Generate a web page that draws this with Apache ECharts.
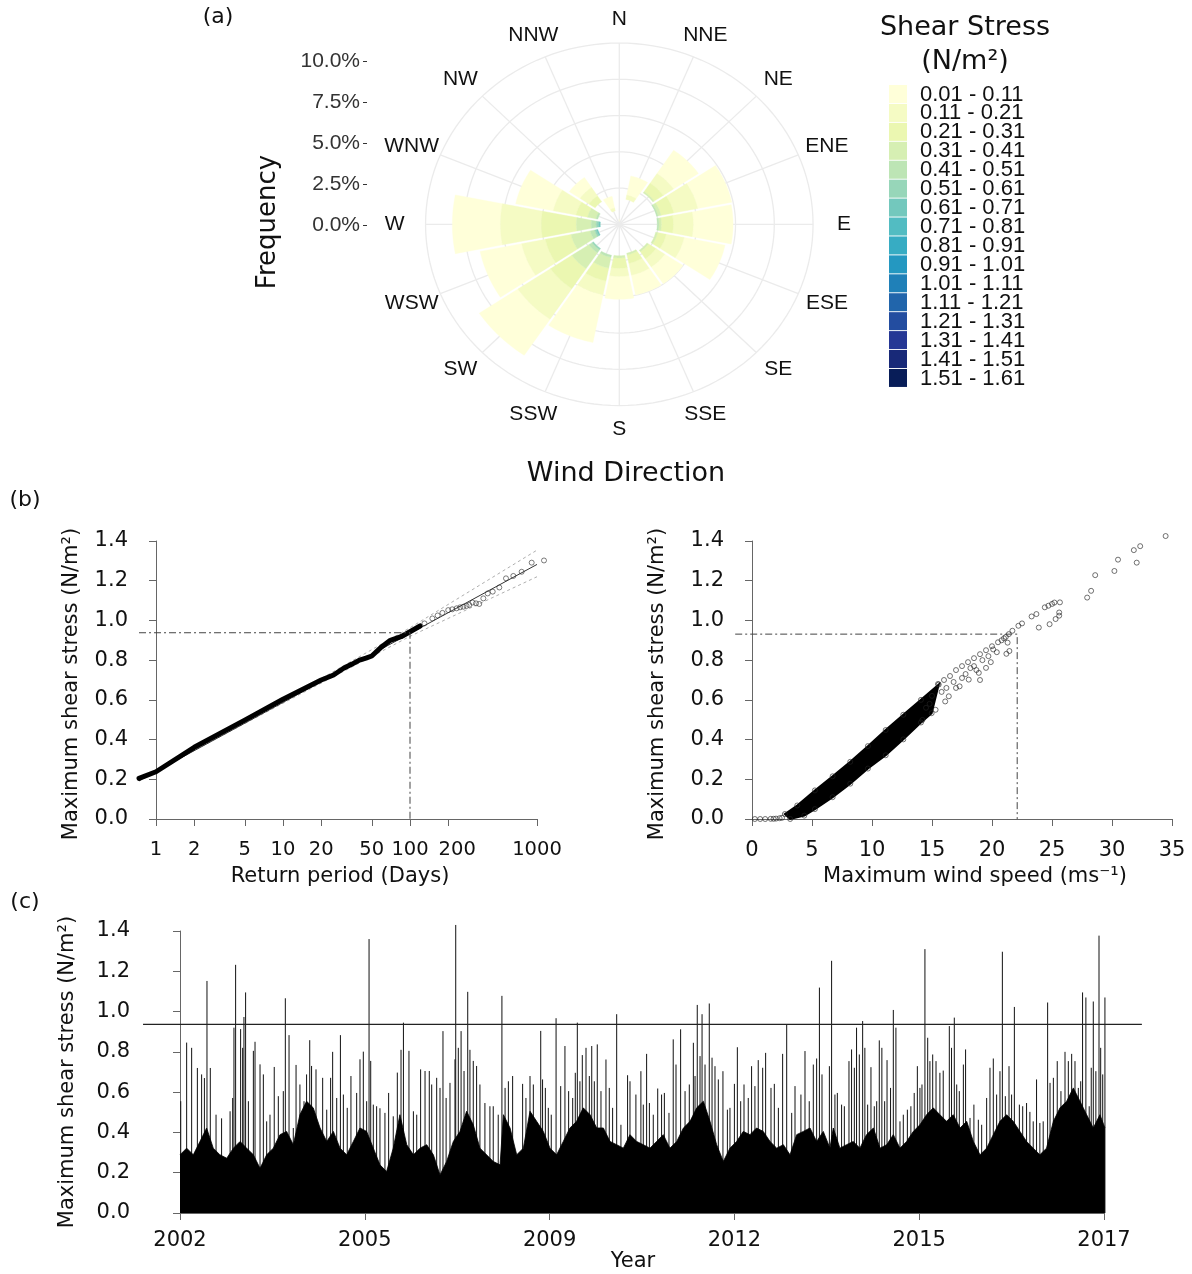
<!DOCTYPE html>
<html><head><meta charset="utf-8">
<script src="https://cdn.jsdelivr.net/npm/echarts@6/dist/echarts.min.js"></script>
<style>html,body{margin:0;padding:0;background:#fff}#c{width:1192px;height:1274px}</style>
</head><body><div id="c"></div>
<script>
// ================= DATA =================
// (a) wind rose
const directions = ['N','NNE','NE','ENE','E','ESE','SE','SSE','S','SSW','SW','WSW','W','WNW','NW','NNW'];
const stressClasses = ['0.01 - 0.11','0.11 - 0.21','0.21 - 0.31','0.31 - 0.41','0.41 - 0.51','0.51 - 0.61','0.61 - 0.71','0.71 - 0.81','0.81 - 0.91','0.91 - 1.01','1.01 - 1.11','1.11 - 1.21','1.21 - 1.31','1.31 - 1.41','1.41 - 1.51','1.51 - 1.61'];
const classColors = ['#ffffd9','#f5fbc4','#ebf7b1','#d6efb3','#bde5b5','#97d6b9','#73c8bd','#52bcc2','#37acc3','#2498c1','#1f80b8','#2165ab','#234da0','#253795','#182978','#081d58'];
const freqPercentTicks = [0, 2.5, 5, 7.5, 10];
const roseCircleRadii = [2.5, 5, 7.5, 10, 12.5];
// frequency (%) by direction; below-range part is not coloured
const freqBelowRange = [0.20,1.77,2.66,2.47,2.45,2.41,2.20,2.05,2.17,2.19,2.06,1.43,1.23,1.43,1.93,0.96];
const freqC1 = [0.15,1.34,1.93,2.24,2.57,2.69,1.40,1.39,1.58,3.35,3.00,2.73,3.10,2.47,0.83,0.82];
const freqC2 = [0,0.30,0.80,1.58,1.29,1.18,0.69,0.83,0.56,0.97,2.53,1.56,2.64,1.50,0.69,0.20];
const freqC3 = [0,0,0.70,0.83,0.77,0.57,0.58,0.59,0.71,0.90,1.66,1.69,2.26,0.76,0.48,0];
const freqC4 = [0,0,0.10,0.21,0.16,0.12,0.12,0.12,0.15,0.76,1.32,1.26,0.96,0.55,0,0];
const freqC5 = [0,0,0,0.08,0.10,0,0,0,0,0.15,0.25,0.30,0.33,0.12,0,0];
const freqC6 = [0,0,0,0,0,0,0,0,0,0,0.10,0.12,0.15,0,0,0];
const freqC7 = [0,0,0,0,0,0,0,0,0,0,0,0.08,0.10,0,0,0];
const freqByClass = [freqC1,freqC2,freqC3,freqC4,freqC5,freqC6,freqC7]; // higher classes: no observations

// (b) left: return level plot
const returnTickDays = [1,2,5,10,20,50,100,200,1000];
const returnPeriodDense = [0.735,1,2,5,10,20,25,30,35,40,45,50,60,70,85,100,120];
const stressDense = [0.205,0.238,0.361,0.498,0.603,0.700,0.725,0.759,0.780,0.800,0.810,0.821,0.868,0.900,0.918,0.943,0.972];
const returnPeriodTail = [130,150,165,180,200,215,233,248,263,279,293,311,331,351,378,409,448,505,570,651,757,908,1135];
const stressTail = [0.985,1.010,1.025,1.038,1.052,1.056,1.061,1.066,1.069,1.073,1.078,1.090,1.086,1.083,1.111,1.136,1.145,1.166,1.212,1.224,1.245,1.291,1.302];
const returnFitDays = [0.735,1000];
const stressFit = [0.193,1.282];
const returnBandDays = [0.735,10,100,1000];
const stressBandUpper = [0.190,0.597,0.963,1.354];
const stressBandLower = [0.198,0.583,0.920,1.220];
const returnThresholdDays = 100;
const returnThresholdStress = 0.938;
const returnXRange = [0.735, 1500];   // plot region (days)

// (b) right: stress vs wind speed
const windBandTopX = [2.74,3.77,5.24,6.72,8.19,9.66,11.14,12.61,14.08,15.56];
const stressBandTop = [0.025,0.068,0.144,0.215,0.288,0.367,0.448,0.525,0.600,0.677];
const windBandBottomX = [3.18,4.36,5.24,6.72,8.19,9.66,11.14,12.61,14.08,14.97];
const stressBandBottom = [0.000,0.017,0.050,0.110,0.178,0.254,0.321,0.401,0.486,0.533];
const windStressPoints = [[0.24,0],[0.68,0],[1.1,0],[1.56,0.001],[1.8,0.001],[2.0,0.002],[2.3,0.004],[2.5,0.006],
 [14.2,0.499],[14.5,0.56],[14.8,0.58],[15.0,0.62],[15.3,0.55],[15.5,0.68],[15.8,0.64],[16.0,0.70],[16.1,0.592],[16.2,0.66],[16.4,0.618],[16.5,0.72],[16.8,0.69],[17.0,0.75],[17.0,0.66],[17.3,0.668],[17.5,0.77],[17.5,0.71],[17.8,0.73],[18.0,0.79],[18.06,0.702],[18.2,0.76],[18.5,0.81],[18.5,0.77],[18.7,0.75],[18.9,0.736],[19.0,0.83],[19.0,0.70],[19.2,0.80],[19.5,0.85],[19.5,0.761],[19.7,0.82],[19.9,0.79],[20.0,0.87],[20.1,0.854],[20.4,0.84],[20.5,0.89],[20.8,0.90],[21.0,0.91],[21.15,0.917],[21.2,0.832],[21.3,0.888],[21.4,0.931],[21.45,0.846],[21.7,0.948],[22.2,0.973],[22.5,0.985],[23.3,1.02],[23.7,1.032],[23.9,0.964],[24.4,1.066],[24.7,1.074],[24.8,0.981],[25.0,1.083],[25.2,1.09],[25.3,1.007],[25.6,1.024],[25.6,1.04],[25.66,1.091],[27.93,1.115],[28.26,1.149],[28.6,1.228],[30.2,1.249],[30.5,1.306],[31.82,1.354],[32.06,1.291],[32.35,1.374],[34.47,1.425]];
const windThreshold = 22.1;
const windThresholdStress = 0.931;
const windXRange = [-1.4, 36.4];      // plot region (m/s)

// (c) time series (x = observation index, tick every 1000)
const yearTicks = ['2002','2005','2009','2012','2015','2017'];
const seriesThreshold = 0.936;
const seriesXRange = [-200, 5205];    // plot region (index)
const stressRange = [-0.056, 1.456];  // plot region (stress)
const seriesBody = [[0,.289],[36,.322],[72,.289],[108,.355],[144,.422],[180,.322],[216,.289],[253,.272],[289,.322],[325,.355],[361,.322],[397,.289],[433,.222],[469,.289],[505,.322],[541,.389],[577,.405],[613,.339],[649,.488],[685,.555],[721,.522],[758,.422],[794,.355],[830,.405],[866,.322],[902,.289],[938,.355],[974,.422],[1010,.405],[1046,.322],[1082,.239],[1118,.206],[1154,.322],[1190,.488],[1227,.339],[1263,.289],[1299,.322],[1335,.339],[1371,.289],[1407,.189],[1443,.256],[1479,.355],[1515,.405],[1551,.505],[1587,.438],[1623,.322],[1659,.289],[1695,.256],[1732,.239],
 [1750,.488],[1786,.422],[1822,.289],[1858,.322],[1894,.505],[1930,.455],[1966,.405],[2002,.322],[2038,.289],[2074,.355],[2110,.422],[2146,.455],[2182,.522],[2219,.488],[2255,.422],[2291,.422],[2327,.355],[2363,.339],[2399,.322],[2435,.389],[2471,.355],[2507,.339],[2543,.322],[2579,.355],[2615,.389],[2651,.322],[2688,.355],[2724,.422],[2760,.455],[2796,.522],[2832,.555],[2868,.455],[2904,.339],[2940,.256],[2976,.322],[3012,.355],[3048,.405],[3084,.389],[3120,.422],[3156,.405],[3193,.355],[3229,.322],[3265,.339],[3301,.289],[3337,.389],[3373,.405],[3409,.422],[3445,.355],[3481,.405],[3517,.322],
 [3535,.422],[3571,.322],[3607,.339],[3643,.355],[3679,.322],[3715,.389],[3752,.422],[3788,.322],[3824,.339],[3860,.389],[3896,.322],[3932,.355],[3968,.405],[4004,.438],[4040,.488],[4076,.522],[4112,.488],[4148,.455],[4184,.488],[4221,.422],[4257,.455],[4293,.355],[4329,.289],[4365,.322],[4401,.389],[4437,.455],[4473,.488],[4509,.455],[4545,.405],[4581,.355],[4617,.322],[4653,.289],[4689,.322],[4726,.455],[4762,.522],[4798,.555],[4834,.621],[4870,.555],[4906,.488],[4942,.422],[4978,.488],[5005,.422]];
const seriesSpikes = [[4,.555],[36,.846],[63,.82],[94,.72],[117,.688],[132,.67],[146,1.152],[164,.72],[195,.488],[225,.47],[271,.505],[285,.571],[292,.92],[301,1.232],[328,.913],[339,.82],[346,.973],[355,1.095],[370,.555],[397,.805],[406,.85],[433,.738],[451,.688],[469,.455],[487,.488],[510,.725],[532,.58],[559,.605],[570,1.066],[590,.883],[613,.422],[628,.735],[649,.638],[671,.555],[685,.688],[702,.858],[712,.73],[736,.713],[772,.671],[794,.513],[815,.671],[826,.8],[848,.571],[868,.883],[884,.588],[905,.522],[925,.68],[956,.596],[974,.763],[992,.801],[1010,.555],[1023,1.36],[1032,.755],[1046,.538],[1064,.53],[1082,.52],[1109,.497],[1129,.596],[1154,.48],[1176,.697],[1196,.81],[1209,.945],[1239,.805],[1263,.505],[1281,.488],[1302,.713],[1326,.705],[1349,.705],[1362,.638],[1389,.671],[1407,.621],[1423,.903],[1440,.571],[1461,.646],[1488,.763],[1492,1.43],[1506,.82],[1521,.903],[1537,.705],[1557,1.098],[1569,.81],[1587,.755],[1605,.73],[1623,.638],[1650,.546],[1677,.53],[1695,.53],[1722,.488],
 [1742,1.078],[1759,.621],[1777,.654],[1800,.68],[1854,.641],[1872,.571],[1894,.68],[1912,.638],[1952,.904],[1962,.663],[1977,.621],[1993,.522],[2009,.488],[2035,.967],[2060,.63],[2083,.829],[2103,.605],[2125,.571],[2139,.696],[2150,.945],[2164,.654],[2177,.784],[2197,.82],[2215,.68],[2228,.829],[2242,.654],[2258,.837],[2278,.605],[2305,.762],[2323,.621],[2341,.522],[2363,.987],[2386,.438],[2422,.684],[2435,.654],[2467,.588],[2494,.704],[2507,.538],[2525,.79],[2540,.546],[2561,.488],[2585,.618],[2606,.588],[2621,.596],[2646,.497],[2669,.862],[2684,.737],[2709,.912],[2733,.605],[2756,.638],[2778,.845],[2787,.68],[2799,1.033],[2814,.779],[2825,.987],[2841,.737],[2864,1.04],[2879,.771],[2895,.729],[2913,.663],[2938,.704],[2962,.513],[2976,.522],[3000,.641],[3016,.823],[3034,.555],[3052,.638],[3075,.571],[3093,.729],[3111,.63],[3129,.759],[3153,.721],[3169,.795],[3198,.621],[3216,.641],[3238,.522],[3261,.79],[3283,.934],[3310,.497],[3328,.63],[3360,.588],[3382,.804],[3405,.555],[3427,.737],[3445,.767],[3460,1.119],[3474,.688],[3514,.729],
 [3526,1.252],[3544,.588],[3557,.596],[3580,.538],[3595,.53],[3620,.754],[3634,.812],[3649,.721],[3661,.92],[3676,.787],[3694,.953],[3706,.82],[3721,.538],[3739,.724],[3757,.53],[3770,.555],[3784,.857],[3798,.82],[3813,.555],[3826,.759],[3845,.621],[3860,1.008],[3874,.92],[3896,.455],[3914,.488],[3936,.513],[3955,.53],[3973,.596],[3990,.729],[4004,.621],[4015,.638],[4031,1.31],[4046,.87],[4058,.754],[4073,.787],[4091,.754],[4112,.696],[4130,.707],[4163,.928],[4175,.82],[4190,.97],[4203,.638],[4217,.605],[4239,.737],[4251,.812],[4275,.472],[4296,.538],[4320,.463],[4338,.438],[4365,.571],[4383,.721],[4401,.767],[4419,.588],[4437,.704],[4450,1.297],[4466,.58],[4486,.729],[4500,.588],[4515,1.023],[4542,.538],[4560,.53],[4581,.546],[4599,.502],[4617,.455],[4635,.663],[4653,.447],[4671,.455],[4695,1.045],[4708,.646],[4726,.671],[4747,.754],[4767,.605],[4789,.8],[4807,.754],[4825,.79],[4843,.754],[4861,.621],[4874,.654],[4884,1.095],[4902,1.07],[4920,.53],[4931,.721],[4942,1.05],[4956,.704],[4973,1.377],[4982,.82],[4993,.688],[5005,1.07]];

// ================= BUILD =================
const SANS = 'DejaVu Sans', ARIAL = 'Liberation Sans';
const DEG = Math.PI / 180;
const roseCx = 619.3, roseCy = 224.3, rosePxX = 15.5, rosePxY = 14.5, roseRmax = 12.5;
const labelRx = 14.5, labelRy = 14.15, roseGapPx = 2.4;

const zip = (a, b) => a.map((v, i) => [v, b[i]]);
function classFreq(k, d) { return k < freqByClass.length ? freqByClass[k][d] : 0; }
const segs = stressClasses.map(() => []);
directions.forEach((_, d) => {
  let r = freqBelowRange[d];
  for (let k = stressClasses.length - 1; k >= 0; k--) {
    const f = classFreq(k, d);
    if (f > 0) { segs[k].push([d, r, r + f]); r += f; }
  }
});

function halfWidth(r) {
  if (r <= 0) return 0;
  const g = Math.asin(Math.min(1, roseGapPx / 2 / (r * 15))) / DEG;
  return Math.max(0, 11.25 - g);
}
function sectorRender(color) {
  return function (params, api) {
    const d = api.value(0), r0 = api.value(1), r1 = api.value(2);
    const c = d * 22.5, pts = [], steps = 12;
    const h1 = halfWidth(r1), h0 = halfWidth(r0);
    for (let i = 0; i <= steps; i++) { const a = (c - h1 + 2 * h1 * i / steps) * DEG; pts.push(api.coord([r1 * Math.sin(a), r1 * Math.cos(a)])); }
    for (let i = steps; i >= 0; i--) { const a = (c - h0 + 2 * h0 * i / steps) * DEG; pts.push(api.coord([r0 * Math.sin(a), r0 * Math.cos(a)])); }
    return { type: 'polygon', shape: { points: pts }, style: { fill: color, stroke: color, lineWidth: 0.4 } };
  };
}

// axis boxes (tick ranges) and the plot regions derived from them
const boxBL = { left: 156, top: 541, width: 381, height: 278 };  // x: log10 days 0..3, y: 0..1.4
const boxBR = { left: 752, top: 541, width: 420, height: 278 };  // x: 0..35
const boxC  = { left: 180, top: 931, width: 924, height: 282 };  // x: 0..5000
function regionGrid(box, ax, xr, ay, yr) {
  const sx = box.width / (ax[1] - ax[0]), sy = box.height / (ay[1] - ay[0]);
  return { left: box.left + (xr[0] - ax[0]) * sx, width: (xr[1] - xr[0]) * sx,
           top: box.top - (yr[1] - ay[1]) * sy, height: (yr[1] - yr[0]) * sy,
           containLabel: false, outerBoundsMode: 'none' };
}
const g = b => Object.assign({ containLabel: false, outerBoundsMode: 'none' }, b);

const axisLineStyle = { color: '#666', width: 1 };
const tickLabel = { fontFamily: SANS, fontSize: 21, color: '#111' };
function stressY(gridIndex, offset) {
  return { gridIndex, type: 'value', min: 0, max: 1.4, interval: 0.2, offset,
    axisLine: { show: true, lineStyle: axisLineStyle },
    axisTick: { show: true, length: 7, lineStyle: axisLineStyle },
    axisLabel: Object.assign({ margin: 11, formatter: v => v.toFixed(1), hideOverlap: false }, tickLabel),
    splitLine: { show: false } };
}
const hidden = (gridIndex, min, max, type) => ({ gridIndex, type: type || 'value', min, max, show: false });

const dashDot = { color: '#444', width: 1, type: [7, 3, 2, 3] };

const series = [];
// rose grid
series.push({ type: 'custom', xAxisIndex: 0, yAxisIndex: 0, silent: true, z: 1, data: [[0, 0]],
  renderItem: (params, api) => {
    const children = [];
    roseCircleRadii.forEach(r => {
      const pts = [];
      for (let i = 0; i <= 144; i++) { const a = i * 2.5 * DEG; pts.push(api.coord([r * Math.sin(a), r * Math.cos(a)])); }
      children.push({ type: 'polyline', shape: { points: pts }, style: { stroke: '#ebebeb', lineWidth: 1.3, fill: 'none' } });
    });
    directions.forEach((_, i) => {
      const a = i * 22.5 * DEG;
      const p0 = api.coord([0, 0]), p1 = api.coord([roseRmax * Math.sin(a), roseRmax * Math.cos(a)]);
      children.push({ type: 'line', shape: { x1: p0[0], y1: p0[1], x2: p1[0], y2: p1[1] }, style: { stroke: '#ebebeb', lineWidth: 1.3 } });
    });
    return { type: 'group', children };
  } });
// rose sectors
stressClasses.forEach((name, k) => {
  series.push({ type: 'custom', name, xAxisIndex: 0, yAxisIndex: 0, silent: true, z: 2,
    itemStyle: { color: classColors[k] }, data: segs[k], renderItem: sectorRender(classColors[k]) });
});
// rose direction labels
series.push({ type: 'custom', xAxisIndex: 0, yAxisIndex: 0, silent: true, z: 3,
  data: directions.map((_, i) => [i, 0]),
  renderItem: (params, api) => {
    const i = api.value(0), a = i * 22.5 * DEG;
    const p = api.coord([labelRx * Math.sin(a), labelRy * Math.cos(a)]);
    return { type: 'text', x: p[0], y: p[1], style: { text: directions[i], fontFamily: ARIAL, fontSize: 21, fill: '#111', align: 'center', verticalAlign: 'middle' } };
  } });

// (b) left  -> data axes index 3
const BL = { xAxisIndex: 3, yAxisIndex: 3, silent: true };
series.push(Object.assign({ type: 'line', symbol: 'none', z: 2, data: zip(returnBandDays, stressBandUpper), lineStyle: { color: '#999', width: 0.8, type: [3, 3] } }, BL));
series.push(Object.assign({ type: 'line', symbol: 'none', z: 2, data: zip(returnBandDays, stressBandLower), lineStyle: { color: '#999', width: 0.8, type: [3, 3] } }, BL));
series.push(Object.assign({ type: 'line', symbol: 'none', z: 3, data: zip(returnFitDays, stressFit), lineStyle: { color: '#333', width: 1 } }, BL));
series.push(Object.assign({ type: 'line', symbol: 'none', z: 4, data: zip(returnPeriodDense, stressDense), lineStyle: { color: '#000', width: 5, cap: 'round', join: 'round' } }, BL));
series.push(Object.assign({ type: 'scatter', z: 4, symbol: 'circle', symbolSize: 5, data: zip(returnPeriodTail, stressTail),
  itemStyle: { color: 'transparent', borderColor: '#333', borderWidth: 0.8 } }, BL));
series.push(Object.assign({ type: 'line', symbol: 'none', z: 5,
  data: [[returnXRange[0], returnThresholdStress], [returnThresholdDays, returnThresholdStress], [returnThresholdDays, 0]], lineStyle: dashDot }, BL));

// (b) right -> data axes index 5
const BR = { xAxisIndex: 5, yAxisIndex: 5, silent: true };
series.push(Object.assign({ type: 'custom', z: 2, data: [[windBandTopX[0], stressBandTop[0]]],
  renderItem: (params, api) => {
    const pts = [];
    windBandTopX.forEach((x, i) => pts.push(api.coord([x, stressBandTop[i]])));
    for (let i = windBandBottomX.length - 1; i >= 0; i--) pts.push(api.coord([windBandBottomX[i], stressBandBottom[i]]));
    return { type: 'polygon', shape: { points: pts }, style: { fill: '#000', stroke: '#000', lineWidth: 2 } };
  } }, BR));
series.push(Object.assign({ type: 'scatter', z: 3, symbol: 'circle', symbolSize: 5,
  data: zip(windBandTopX, stressBandTop).concat(zip(windBandBottomX, stressBandBottom), windStressPoints),
  itemStyle: { color: 'transparent', borderColor: '#222', borderWidth: 0.8 } }, BR));
series.push(Object.assign({ type: 'line', symbol: 'none', z: 5,
  data: [[windXRange[0], windThresholdStress], [windThreshold, windThresholdStress], [windThreshold, 0]], lineStyle: dashDot }, BR));

// (c) -> data axes index 7
const TC = { xAxisIndex: 7, yAxisIndex: 7, silent: true };
series.push(Object.assign({ type: 'custom', z: 2, data: seriesSpikes,
  renderItem: (params, api) => {
    const p0 = api.coord([api.value(0), 0]), p1 = api.coord([api.value(0), api.value(1)]);
    return { type: 'line', shape: { x1: p0[0], y1: p0[1], x2: p1[0], y2: p1[1] }, style: { stroke: '#111', lineWidth: 1 } };
  } }, TC));
series.push(Object.assign({ type: 'line', symbol: 'none', z: 3, data: seriesBody,
  lineStyle: { color: '#000', width: 0.8 }, areaStyle: { color: '#000', opacity: 1, origin: 0 } }, TC));
series.push(Object.assign({ type: 'line', symbol: 'none', z: 4,
  data: [[seriesXRange[0], seriesThreshold], [seriesXRange[1], seriesThreshold]], lineStyle: { color: '#222', width: 1.3 } }, TC));

function txt(text, x, y, size, opts) {
  return Object.assign({ type: 'text', x, y, silent: true, z: 10,
    style: { text, fontFamily: (opts && opts.font) || SANS, fontSize: size, fill: '#111',
             align: (opts && opts.align) || 'center', verticalAlign: 'middle' } },
    opts && opts.rot ? { rotation: opts.rot } : {});
}

// legend (drawn from the class names and colours)
const legendLeft = 889, legendTop = 85, legendStep = 18.93, legendBox = 18;
const legendEls = [];
stressClasses.forEach((name, k) => {
  const y = legendTop + k * legendStep;
  legendEls.push({ type: 'rect', x: legendLeft, y, shape: { width: legendBox, height: legendBox }, style: { fill: classColors[k] }, silent: true, z: 10 });
  legendEls.push(txt(name, legendLeft + 31, y + legendBox / 2 + 0.5, 22, { font: ARIAL, align: 'left' }));
});

const logTicks = returnTickDays.map(Math.log10);
const logLabelFont = { fontFamily: SANS, fontSize: 19.5, color: '#111' };
const option = {
  animation: false,
  backgroundColor: '#fff',
  grid: [
    g({ left: roseCx - roseRmax * rosePxX, top: roseCy - roseRmax * rosePxY, width: 2 * roseRmax * rosePxX, height: 2 * roseRmax * rosePxY }),
    g({ left: 367, top: 61, width: 1, height: 164 }),
    g(boxBL),
    regionGrid(boxBL, [0, 3], returnXRange.map(Math.log10), [0, 1.4], stressRange),
    g(boxBR),
    regionGrid(boxBR, [0, 35], windXRange, [0, 1.4], stressRange),
    g(boxC),
    regionGrid(boxC, [0, 5000], seriesXRange, [0, 1.4], stressRange)
  ],
  xAxis: [
    hidden(0, -roseRmax, roseRmax),
    hidden(1, 0, 1),
    { gridIndex: 2, type: 'value', min: 0, max: 3, position: 'bottom', offset: 12,
      axisLine: { show: true, lineStyle: axisLineStyle },
      axisTick: { show: true, length: 7, lineStyle: axisLineStyle, customValues: logTicks },
      axisLabel: Object.assign({}, logLabelFont, { margin: 9, hideOverlap: false, customValues: logTicks,
        formatter: v => { const d = Math.round(Math.pow(10, v)); return d === 200 ? '{s|200}' : String(d); },
        rich: { s: Object.assign({ padding: [0, 0, 0, 18] }, logLabelFont) } }),
      splitLine: { show: false } },
    Object.assign(hidden(3, returnXRange[0], returnXRange[1], 'log'), { logBase: 10 }),
    { gridIndex: 4, type: 'value', min: 0, max: 35, interval: 5, position: 'bottom', offset: 12,
      axisLine: { show: true, lineStyle: axisLineStyle },
      axisTick: { show: true, length: 7, lineStyle: axisLineStyle },
      axisLabel: Object.assign({ margin: 9, hideOverlap: false }, tickLabel), splitLine: { show: false } },
    hidden(5, windXRange[0], windXRange[1]),
    { gridIndex: 6, type: 'value', min: 0, max: 5000, interval: 1000, position: 'bottom', offset: 11,
      axisLine: { show: true, lineStyle: axisLineStyle },
      axisTick: { show: true, length: 7, lineStyle: axisLineStyle },
      axisLabel: Object.assign({ margin: 6, hideOverlap: false, formatter: v => yearTicks[Math.round(v / 1000)] }, tickLabel), splitLine: { show: false } },
    hidden(7, seriesXRange[0], seriesXRange[1])
  ],
  yAxis: [
    hidden(0, -roseRmax, roseRmax),
    { gridIndex: 1, type: 'value', min: 0, max: 10, interval: 2.5,
      axisLine: { show: false }, axisTick: { show: true, length: 4, lineStyle: { color: '#333' } },
      axisLabel: { margin: 7, formatter: v => v.toFixed(1) + '%', fontFamily: ARIAL, fontSize: 21, color: '#333', hideOverlap: false },
      splitLine: { show: false } },
    stressY(2, 17), hidden(3, stressRange[0], stressRange[1]),
    stressY(4, 17), hidden(5, stressRange[0], stressRange[1]),
    stressY(6, 39), hidden(7, stressRange[0], stressRange[1])
  ],
  graphic: { elements: [
    txt('(a)', 218, 17, 22),
    txt('(b)', 25, 500, 22),
    txt('(c)', 25, 902, 22),
    txt('Frequency', 268, 222, 26, { rot: Math.PI / 2 }),
    txt('Wind Direction', 626, 474, 27),
    txt('Shear Stress', 965, 28, 27),
    txt('(N/m²)', 965, 62, 27),
    txt('Maximum shear stress (N/m²)', 72, 684, 21, { rot: Math.PI / 2 }),
    txt('Return period (Days)', 340, 877, 21),
    txt('Maximum shear stress (N/m²)', 658, 684, 21, { rot: Math.PI / 2 }),
    txt('Maximum wind speed (ms⁻¹)', 975, 877, 21),
    txt('Maximum shear stress (N/m²)', 68, 1072, 21, { rot: Math.PI / 2 }),
    txt('Year', 633, 1262, 21)
  ].concat(legendEls) },
  series
};
const chart = echarts.init(document.getElementById('c'), null, { renderer: 'canvas', width: 1192, height: 1274 });
chart.setOption(option);
</script>
</body></html>
